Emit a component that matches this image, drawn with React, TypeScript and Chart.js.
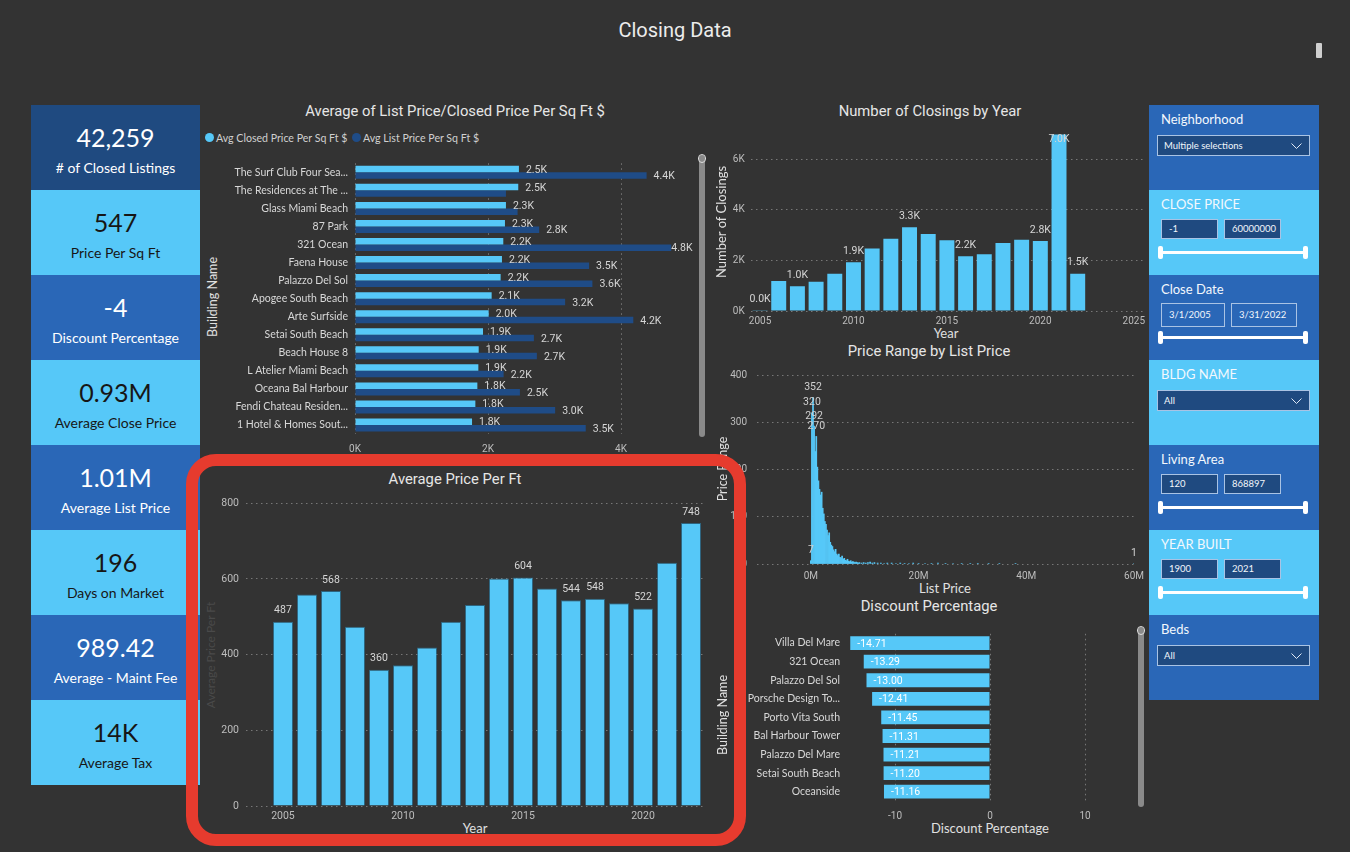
import React, { useEffect, useRef } from 'react';
import { Chart, registerables } from 'chart.js';
Chart.register(...registerables);

// ---------- DATA ----------
const kpiValues = ['42,259', '547', '-4', '0.93M', '1.01M', '196', '989.42', '14K'];
const kpiLabels = ['# of Closed Listings', 'Price Per Sq Ft', 'Discount Percentage', 'Average Close Price', 'Average List Price', 'Days on Market', 'Average - Maint Fee', 'Average Tax'];

const buildingNames = ['The Surf Club Four Sea...', 'The Residences at The ...', 'Glass Miami Beach', '87 Park', '321 Ocean', 'Faena House', 'Palazzo Del Sol', 'Apogee South Beach', 'Arte Surfside', 'Setai South Beach', 'Beach House 8', 'L Atelier Miami Beach', 'Oceana Bal Harbour', 'Fendi Chateau Residen...', '1 Hotel & Homes Sout...'];
const avgClosedPsf = [2465, 2455, 2270, 2255, 2230, 2210, 2190, 2055, 2010, 1925, 1860, 1855, 1840, 1810, 1760];
const avgListPsf = [4385, 2270, 2445, 2770, 4755, 3520, 3570, 3160, 4185, 2690, 2735, 2235, 2480, 3010, 3470];
const listLabelShown = [true, false, false, true, true, true, true, true, true, true, true, true, true, true, true];
const psfTicks = [0, 2000, 4000];

const closingYearLabels = ['2005', '2006', '2007', '2008', '2009', '2010', '2011', '2012', '2013', '2014', '2015', '2016', '2017', '2018', '2019', '2020', '2021', '2022', '2023', '2024', '2025'];
const closingsCount = [30, 1190, 980, 1160, 1470, 1930, 2470, 2860, 3310, 3050, 2800, 2170, 2240, 2690, 2820, 2770, 6980, 1470];
const closingsLabelIdx = [0, 2, 5, 8, 11, 15, 16, 17];
const closingsTicks = [0, 2000, 4000, 6000];

const priceBinsM = [0, 0.2, 0.4, 0.6, 0.8, 1.0, 1.2, 1.4, 1.6, 1.8, 2.0, 2.2, 2.4, 2.6, 2.8, 3.0, 3.2, 3.4, 3.6, 3.8, 4.0, 4.2, 4.4, 4.6, 4.8, 5.0, 5.2, 5.4, 5.6, 5.8, 6.0, 6.2, 6.4, 6.6, 6.8, 7.0, 7.2, 7.4, 7.6, 7.8, 8.0, 8.2, 8.4, 8.6, 8.8, 9.0, 9.4, 9.8, 10.2, 10.6, 11.0, 11.4, 11.8, 12.4, 13.0, 13.6, 14.2, 15.0, 15.8, 16.6, 17.4, 18.2, 19.0, 20.0, 21.2, 22.4, 23.6, 25.0, 26.4, 28.0, 29.6, 31.0, 33.0, 35.0, 38.0, 60.0];
const binCounts = [7, 320, 352, 292, 238, 270, 205, 176, 158, 146, 152, 118, 106, 90, 84, 72, 60, 66, 46, 40, 37, 30, 26, 31, 21, 18, 21, 14, 13, 17, 10, 12, 8, 7, 10, 6, 5, 7, 4, 5, 4, 3, 4, 3, 2, 3, 2, 3, 2, 3, 4, 2, 3, 2, 2, 1, 2, 2, 1, 2, 1, 1, 2, 1, 1, 1, 2, 1, 1, 1, 1, 1, 1, 1, 1, 1];
const binLabelIdx = [0, 1, 2, 3, 5, 75];
const priceTicksM = [0, 20, 40, 60];
const rangeTicks = [0, 100, 200, 300, 400];

const discountBuildings = ['Villa Del Mare', '321 Ocean', 'Palazzo Del Sol', 'Porsche Design To...', 'Porto Vita South', 'Bal Harbour Tower', 'Palazzo Del Mare', 'Setai South Beach', 'Oceanside'];
const discountPct = [-14.71, -13.29, -13.0, -12.41, -11.45, -11.31, -11.21, -11.2, -11.16];
const discountTicks = [-10, 0, 10];

const avgYears = [2005, 2006, 2007, 2008, 2009, 2010, 2011, 2012, 2013, 2014, 2015, 2016, 2017, 2018, 2019, 2020, 2021, 2022];
const avgPricePerFt = [487, 559, 568, 474, 360, 372, 419, 487, 531, 601, 604, 575, 544, 548, 536, 522, 643, 748];
const avgLabelIdx = [0, 2, 4, 10, 12, 13, 15, 17];
const avgYearTicks = [2005, 2010, 2015, 2020];
const avgValueTicks = [0, 200, 400, 600, 800];

const slicerTitles = ['Neighborhood', 'CLOSE PRICE', 'Close Date', 'BLDG NAME', 'Living Area', 'YEAR BUILT', 'Beds'];
const slicerValues = [['Multiple selections'], ['-1', '60000000'], ['3/1/2005', '3/31/2022'], ['All'], ['120', '868897'], ['1900', '2021'], ['All']];

// ---------- STYLE ----------
const BG = '#333333';
const LIGHT = '#56C8F8';
const NAVY_BAR = '#1F4C87';
const CARD_DARK = '#1F4A80';
const CARD_MID = '#2A67B7';
const GRID = '#777777';
const TICK = '#bdbdbd';
const DIN = 'Roboto, sans-serif';
const UI = 'Lato, sans-serif';
const TITLE_SIZE = 14.8;

const fmtK = (v: number) => (v / 1000).toFixed(1) + 'K';
const setTicks = (vals: number[]) => (ax: any) => { ax.ticks = vals.map((v) => ({ value: v })); };
const dotted = { display: false, dash: [1.5, 3.5] };

function T(p: { x: number; y: number; children: any; size?: number; color?: string; family?: string; weight?: number; rotate?: number; align?: 'left' | 'center' }) {
  const { x, y, children, size = 12, color = '#e6e6e6', family = UI, weight = 400, rotate = 0, align = 'center' } = p;
  return (
    <div style={{ position: 'absolute', left: x, top: y, transform: `translate(${align === 'left' ? '0' : '-50%'},-50%) rotate(${rotate}deg)`, fontSize: size, color, fontFamily: family, fontWeight: weight, whiteSpace: 'nowrap', lineHeight: 1.2 }}>
      {children}
    </div>
  );
}

function Chevron() {
  return (
    <svg width="11" height="7" style={{ position: 'absolute', right: 7, top: 7 }}>
      <polyline points="0.5,0.5 5.5,5.5 10.5,0.5" stroke="#dfe8f5" strokeWidth="1" fill="none" />
    </svg>
  );
}

function Slicer({ i }: { i: number }) {
  const top = 105 + i * 85;
  const vals = slicerValues[i];
  const isDate = vals[0].includes('/');
  const bg = i % 2 === 1 ? LIGHT : CARD_MID;
  const box = (left: number, w: number, h: number, t: number, txt: string, fill: string) => (
    <div style={{ position: 'absolute', left: left - 1149, top: t, width: w, height: h, boxSizing: 'border-box', border: '1px solid #a9c3e4', background: fill, color: '#f2f6fb', fontFamily: UI, fontSize: 9.5, lineHeight: `${h - 2}px`, paddingLeft: 7 }}>{txt}</div>
  );
  return (
    <div style={{ position: 'absolute', left: 1149, top, width: 170, height: 85, background: bg }}>
      <div style={{ position: 'absolute', left: 12, top: 5, fontFamily: UI, fontSize: 13, color: '#f3f8fd', lineHeight: '18px' }}>{slicerTitles[i]}</div>
      {vals.length === 1 ? (
        <div style={{ position: 'absolute', left: 8, top: 30, width: 153, height: 21, boxSizing: 'border-box', border: '1px solid #a9c3e4', background: CARD_DARK, color: '#f2f6fb', fontFamily: UI, fontSize: 9.5, lineHeight: '19px', paddingLeft: 6 }}>
          {vals[0]}
          <Chevron />
        </div>
      ) : (
        <>
          {isDate ? box(1161, 64, 24, 28, vals[0], 'transparent') : box(1161, 57, 20, 29, vals[0], CARD_DARK)}
          {isDate ? box(1231, 66, 24, 28, vals[1], 'transparent') : box(1224, 57, 20, 29, vals[1], CARD_DARK)}
          <div style={{ position: 'absolute', left: 11, top: 61, width: 146, height: 3, background: '#ffffff' }} />
          <div style={{ position: 'absolute', left: 9, top: 56, width: 5, height: 13, borderRadius: 2, background: '#ffffff' }} />
          <div style={{ position: 'absolute', left: 154, top: 56, width: 5, height: 13, borderRadius: 2, background: '#ffffff' }} />
        </>
      )}
    </div>
  );
}

function ScrollBar({ x, y, h }: { x: number; y: number; h: number }) {
  return (
    <div style={{ position: 'absolute', left: x, top: y, width: 6, height: h, borderRadius: 3, background: '#8a8a8a' }}>
      <div style={{ position: 'absolute', left: -1, top: -1, width: 8, height: 9, borderRadius: 4, boxSizing: 'border-box', border: '1.5px solid #dddddd' }} />
    </div>
  );
}

export default function App() {
  const aRef = useRef<HTMLCanvasElement>(null);
  const bRef = useRef<HTMLCanvasElement>(null);
  const cRef = useRef<HTMLCanvasElement>(null);
  const dRef = useRef<HTMLCanvasElement>(null);
  const eRef = useRef<HTMLCanvasElement>(null);

  useEffect(() => {
    document.body.style.margin = '0';
    document.body.style.background = BG;
    const base = { animation: false, responsive: false, events: [], plugins: { legend: { display: false }, tooltip: { enabled: false } } };
    const tickFont = { family: DIN, size: 10 };
    const charts: Chart[] = [];

    // A: grouped horizontal bars
    charts.push(new Chart(aRef.current!, {
      type: 'bar',
      data: {
        labels: buildingNames,
        datasets: [
          { data: avgClosedPsf, backgroundColor: LIGHT, categoryPercentage: 0.72, barPercentage: 1 },
          { data: avgListPsf, backgroundColor: NAVY_BAR, categoryPercentage: 0.72, barPercentage: 1 },
        ],
      },
      options: {
        ...base, indexAxis: 'y',
        layout: { padding: { top: 10, right: 12.5, left: 0, bottom: 0 } },
        scales: {
          x: { type: 'linear', min: 0, max: 5000, offset: false, afterBuildTicks: setTicks(psfTicks), ticks: { color: TICK, font: tickFont, padding: 9, callback: (v: any) => v / 1000 + 'K' }, grid: { color: GRID, drawTicks: false }, border: dotted, afterFit: (ax: any) => { ax.height = 22; } },
          y: { ticks: { color: '#d8d8d8', font: { family: UI, size: 10.5 }, padding: 7, autoSkip: false }, grid: { display: false, drawTicks: false }, border: { display: false }, afterFit: (ax: any) => { ax.width = 155; } },
        },
      } as any,
      plugins: [{
        id: 'labelsA',
        afterDatasetsDraw(chart: any) {
          const ctx = chart.ctx; ctx.save();
          ctx.font = `10.5px ${DIN}`; ctx.fillStyle = '#d6d6d6'; ctx.textBaseline = 'middle'; ctx.textAlign = 'left';
          const right = chart.chartArea.right + 5;
          chart.getDatasetMeta(0).data.forEach((b: any, i: number) => {
            const t = fmtK(avgClosedPsf[i]); const w = ctx.measureText(t).width;
            ctx.fillText(t, Math.min(b.x + 7, right - w), b.y + 1);
          });
          chart.getDatasetMeta(1).data.forEach((b: any, i: number) => {
            if (!listLabelShown[i]) return;
            const t = fmtK(avgListPsf[i]); const w = ctx.measureText(t).width;
            ctx.fillText(t, Math.min(b.x + 7, right - w), b.y + 1);
          });
          ctx.restore();
        },
      }],
    }));

    // B: closings by year
    charts.push(new Chart(bRef.current!, {
      type: 'bar',
      data: { labels: closingYearLabels, datasets: [{ data: closingsCount, backgroundColor: LIGHT, categoryPercentage: 0.9, barPercentage: 0.89 }] },
      options: {
        ...base,
        layout: { padding: { top: 10, right: 0, left: 0, bottom: 0 } },
        scales: {
          x: { ticks: { color: TICK, font: tickFont, padding: 4, autoSkip: false, maxRotation: 0, callback: (_v: any, i: number) => (Number(closingYearLabels[i]) % 5 === 0 ? closingYearLabels[i] : '') }, grid: { display: false, drawTicks: false }, border: { display: false }, afterFit: (ax: any) => { ax.height = 14; } },
          y: { min: 0, max: 7000, afterBuildTicks: setTicks(closingsTicks), ticks: { color: TICK, font: tickFont, padding: 6, callback: (v: any) => v / 1000 + 'K' }, grid: { color: GRID, drawTicks: false }, border: dotted, afterFit: (ax: any) => { ax.width = 40.7; } },
        },
      } as any,
      plugins: [{
        id: 'labelsB',
        afterDatasetsDraw(chart: any) {
          const ctx = chart.ctx; ctx.save();
          ctx.font = `10.5px ${DIN}`; ctx.fillStyle = '#d6d6d6'; ctx.textBaseline = 'middle'; ctx.textAlign = 'center';
          const meta = chart.getDatasetMeta(0);
          closingsLabelIdx.forEach((i) => {
            const b = meta.data[i]; let y = b.y - 11;
            if (y < chart.chartArea.top + 2) y = b.y + 5;
            ctx.fillText(fmtK(closingsCount[i]), b.x, y);
          });
          ctx.restore();
        },
      }],
    }));

    // C: histogram
    charts.push(new Chart(cRef.current!, {
      type: 'bar',
      data: { datasets: [{ data: priceBinsM.map((x, i) => ({ x, y: binCounts[i] })), backgroundColor: LIGHT, categoryPercentage: 1, barPercentage: 1 }] },
      options: {
        ...base,
        layout: { padding: { top: 7, right: 10, left: 0, bottom: 0 } },
        scales: {
          x: { type: 'linear', min: -10, max: 60, offset: false, afterBuildTicks: setTicks(priceTicksM), ticks: { color: TICK, font: tickFont, padding: 6, callback: (v: any) => v + 'M' }, grid: { display: false, drawTicks: false }, border: { display: false }, afterFit: (ax: any) => { ax.height = 18; } },
          y: { min: 0, max: 400, afterBuildTicks: setTicks(rangeTicks), ticks: { color: TICK, font: tickFont, padding: 10 }, grid: { color: GRID, drawTicks: false }, border: dotted, afterFit: (ax: any) => { ax.width = 47; } },
        },
      } as any,
      plugins: [{
        id: 'labelsC',
        afterDatasetsDraw(chart: any) {
          const ctx = chart.ctx; ctx.save();
          ctx.font = `10.5px ${DIN}`; ctx.fillStyle = '#d0d0d0'; ctx.textBaseline = 'middle'; ctx.textAlign = 'center';
          const meta = chart.getDatasetMeta(0);
          binLabelIdx.forEach((i) => { const b = meta.data[i]; ctx.fillText(String(binCounts[i]), b.x, b.y - 10); });
          ctx.restore();
        },
      }],
    }));

    // D: discount percentage
    charts.push(new Chart(dRef.current!, {
      type: 'bar',
      data: { labels: discountBuildings, datasets: [{ data: discountPct, backgroundColor: LIGHT, categoryPercentage: 0.8, barPercentage: 0.93 }] },
      options: {
        ...base, indexAxis: 'y',
        layout: { padding: { top: 10.6, right: 2.5, left: 0, bottom: 0 } },
        scales: {
          x: { type: 'linear', min: -15, max: 15, offset: false, afterBuildTicks: setTicks(discountTicks), ticks: { color: TICK, font: tickFont, padding: 9.5 }, grid: { color: GRID, drawTicks: false }, border: dotted, afterFit: (ax: any) => { ax.height = 22; } },
          y: { ticks: { color: '#d8d8d8', font: { family: UI, size: 10.5 }, padding: 7.5, autoSkip: false }, grid: { display: false, drawTicks: false }, border: { display: false }, afterFit: (ax: any) => { ax.width = 135.5; } },
        },
      } as any,
      plugins: [{
        id: 'labelsD',
        afterDatasetsDraw(chart: any) {
          const ctx = chart.ctx; ctx.save();
          ctx.font = `10.5px ${DIN}`; ctx.fillStyle = '#ffffff'; ctx.textBaseline = 'middle'; ctx.textAlign = 'left';
          chart.getDatasetMeta(0).data.forEach((b: any, i: number) => { ctx.fillText(discountPct[i].toFixed(2), b.x + 7, b.y + 1); });
          ctx.restore();
        },
      }],
    }));

    // E: average price per ft
    charts.push(new Chart(eRef.current!, {
      type: 'bar',
      data: { datasets: [{ data: avgYears.map((x, i) => ({ x, y: avgPricePerFt[i] })), backgroundColor: LIGHT, borderColor: 'rgba(40,140,190,0.55)', borderWidth: 1, categoryPercentage: 0.93, barPercentage: 0.9 }] },
      options: {
        ...base,
        layout: { padding: { top: 10, right: 6, left: 0, bottom: 0 } },
        scales: {
          x: { type: 'linear', min: 2003.46, max: 2022.625, offset: false, afterBuildTicks: setTicks(avgYearTicks), ticks: { color: TICK, font: { family: DIN, size: 10.5 }, padding: 4, callback: (v: any) => String(v) }, grid: { display: false, drawTicks: false }, border: { display: false }, afterFit: (ax: any) => { ax.height = 14; } },
          y: { min: 0, max: 800, afterBuildTicks: setTicks(avgValueTicks), ticks: { color: TICK, font: { family: DIN, size: 10.5 }, padding: 7 }, grid: { color: GRID, drawTicks: false }, border: dotted, afterFit: (ax: any) => { ax.width = 46; } },
        },
      } as any,
      plugins: [{
        id: 'labelsE',
        afterDatasetsDraw(chart: any) {
          const ctx = chart.ctx; ctx.save();
          ctx.font = `10.5px ${DIN}`; ctx.fillStyle = '#d6d6d6'; ctx.textBaseline = 'middle'; ctx.textAlign = 'center';
          const meta = chart.getDatasetMeta(0);
          avgLabelIdx.forEach((i) => { const b = meta.data[i]; ctx.fillText(String(avgPricePerFt[i]), b.x, b.y - 11); });
          ctx.restore();
        },
      }],
    }));

    return () => charts.forEach((c) => c.destroy());
  }, []);

  const cv = (ref: any, left: number, top: number, w: number, h: number) => (
    <canvas ref={ref} width={w} height={h} style={{ position: 'absolute', left, top, width: w, height: h }} />
  );

  return (
    <div style={{ position: 'fixed', left: 0, top: 0, width: 1350, height: 852, background: BG, overflow: 'hidden', fontFamily: UI }}>
      <T x={675} y={30} size={20} family={DIN} color="#ececec">Closing Data</T>
      <div style={{ position: 'absolute', left: 1316, top: 43, width: 6, height: 15, background: '#cfcfcf', borderRadius: 1 }} />

      {/* KPI cards */}
      {kpiValues.map((v, i) => {
        const bg = i === 0 ? CARD_DARK : i % 2 === 1 ? LIGHT : CARD_MID;
        const fg = i % 2 === 1 ? '#161616' : '#ffffff';
        const top = 105 + i * 85;
        return (
          <div key={i} style={{ position: 'absolute', left: 31, top, width: 169, height: 85, background: bg }}>
            <T x={84.5} y={32} size={25} color={fg}>{v}</T>
            <T x={84.5} y={63} size={14} color={fg}>{kpiLabels[i]}</T>
          </div>
        );
      })}

      {/* Slicers */}
      {slicerTitles.map((_, i) => <Slicer key={i} i={i} />)}

      {/* Chart A */}
      <T x={455} y={112} size={TITLE_SIZE} family={DIN}>Average of List Price/Closed Price Per Sq Ft $</T>
      <div style={{ position: 'absolute', left: 205, top: 133, width: 9, height: 9, borderRadius: 5, background: LIGHT }} />
      <T x={216} y={137.5} size={10.6} color="#d0d0d0" align="left">Avg Closed Price Per Sq Ft $</T>
      <div style={{ position: 'absolute', left: 352, top: 133, width: 9, height: 9, borderRadius: 5, background: NAVY_BAR }} />
      <T x={363} y={137.5} size={10.6} color="#d0d0d0" align="left">Avg List Price Per Sq Ft $</T>
      <T x={212} y={297} size={12.5} rotate={-90} color="#e0e0e0">Building Name</T>
      {cv(aRef, 200, 150, 500, 306)}
      <ScrollBar x={699} y={155} h={282} />

      {/* Chart B */}
      <T x={930} y={112} size={TITLE_SIZE} family={DIN}>Number of Closings by Year</T>
      <T x={722} y={222} size={13} rotate={-90} color="#e0e0e0">Number of Closings</T>
      <T x={946} y={334} size={13} color="#e0e0e0">Year</T>
      {cv(bRef, 710, 122, 439, 203)}

      {/* Chart C */}
      <T x={929} y={352} size={TITLE_SIZE} family={DIN}>Price Range by List Price</T>
      <T x={722} y={469} size={12.5} rotate={-90} color="#e0e0e0">Price Range</T>
      <T x={945} y={589} size={13} color="#e0e0e0">List Price</T>
      {cv(cRef, 710, 359, 440, 223)}

      {/* Chart D */}
      <T x={929} y={607} size={TITLE_SIZE} family={DIN}>Discount Percentage</T>
      <T x={722} y={715} size={12.5} rotate={-90} color="#e0e0e0">Building Name</T>
      <T x={990} y={829} size={13} color="#e0e0e0">Discount Percentage</T>
      {cv(dRef, 712, 620, 423, 203)}
      <ScrollBar x={1138} y={627} h={180} />

      {/* Chart E */}
      <T x={455} y={480} size={TITLE_SIZE} family={DIN}>Average Price Per Ft</T>
      <T x={211} y={655} size={12} rotate={-90} color="#4a4a4a">Average Price Per Ft</T>
      <T x={475} y={829} size={13} color="#e0e0e0">Year</T>
      {cv(eRef, 200, 490, 512, 330)}

      {/* highlight box */}
      <div style={{ position: 'absolute', left: 186, top: 454, width: 560, height: 392, boxSizing: 'border-box', border: '12px solid #E63B2E', borderRadius: 30, pointerEvents: 'none' }} />
    </div>
  );
}
